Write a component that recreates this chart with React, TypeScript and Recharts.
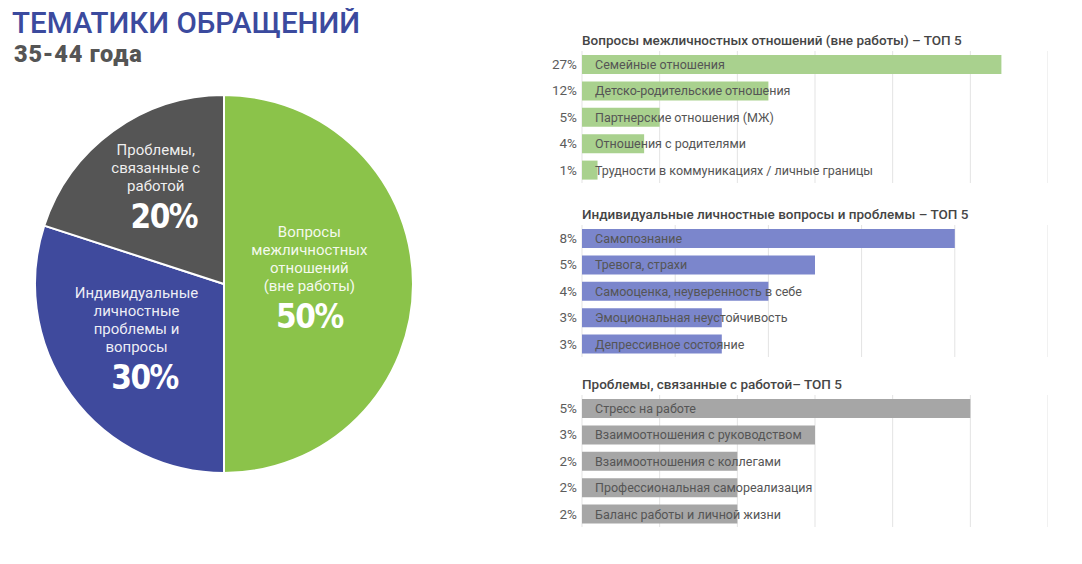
import React from "react";
import {
  Bar,
  BarChart,
  CartesianGrid,
  Cell,
  LabelList,
  Pie,
  PieChart,
  XAxis,
  YAxis,
} from "recharts";

// Pie: share of all requests by theme (35-44 years)
const pieNames = [
  "Вопросы межличностных отношений (вне работы)",
  "Индивидуальные личностные проблемы и вопросы",
  "Проблемы, связанные с работой",
];
const pieLines = [
  ["Вопросы", "межличностных", "отношений", "(вне работы)"],
  ["Индивидуальные", "личностные", "проблемы и", "вопросы"],
  ["Проблемы,", "связанные с", "работой"],
];
const pieValues = [50, 30, 20];

// Top-5 lists
const relNames = [
  "Семейные отношения",
  "Детско-родительские отношения",
  "Партнерские отношения (МЖ)",
  "Отношения с родителями",
  "Трудности в коммуникациях / личные границы",
];
const relValues = [27, 12, 5, 4, 1];

const selfNames = [
  "Самопознание",
  "Тревога, страхи",
  "Самооценка, неуверенность в себе",
  "Эмоциональная неустойчивость",
  "Депрессивное состояние",
];
const selfValues = [8, 5, 4, 3, 3];

const workNames = [
  "Стресс на работе",
  "Взаимоотношения с руководством",
  "Взаимоотношения с коллегами",
  "Профессиональная самореализация",
  "Баланс работы и личной жизни",
];
const workValues = [5, 3, 2, 2, 2];

const PIE_COLORS = ["#8bc34a", "#3f4a9d", "#555555"];
// label placement per slice: distance from centre and angle nudge (deg)
const PIE_LABEL_POS = [
  { r: 86, da: 7 },
  { r: 101, da: -6 },
  { r: 122, da: -2 },
];

const FONT = "Roboto, 'Noto Sans', sans-serif";
const RAD = Math.PI / 180;

const pieData = pieNames.map((name, i) => ({
  name,
  value: pieValues[i],
  lines: pieLines[i],
}));

function PieLabel(props: any) {
  const { cx, cy, midAngle, index, payload } = props;
  const pos = PIE_LABEL_POS[index];
  const a = (midAngle + pos.da) * RAD;
  const x = cx + pos.r * Math.cos(a);
  const y = cy - pos.r * Math.sin(a);
  const lines: string[] = payload.lines ?? pieData[index].lines;
  const lineH = 18;
  const blockH = (lines.length - 1) * lineH + 30;
  const top = y - blockH / 2;
  return (
    <g>
      {lines.map((t, i) => (
        <text
          key={i}
          x={x}
          y={top + i * lineH}
          textAnchor="middle"
          dominantBaseline="central"
          fill="#ffffff"
          fillOpacity={0.92}
          fontFamily={FONT}
          fontSize={15}
        >
          {t}
        </text>
      ))}
      <text
        x={x + (index === 0 ? 0 : 8)}
        y={top + (lines.length - 1) * lineH + 31}
        textAnchor="middle"
        dominantBaseline="central"
        fill="#ffffff"
        fontFamily="'DejaVu Sans Condensed', 'DejaVu Sans', sans-serif"
        fontWeight={700}
        fontSize={33}
        letterSpacing={-1.5}
      >
        {`${payload.value ?? pieData[index].value}%`}
      </text>
    </g>
  );
}

// x axis is only there to feed the grid; draw no tick text
const EmptyTick = () => <g />;

type TopProps = {
  title: string;
  names: string[];
  values: number[];
  max: number;
  step: number;
  color: string;
  top: number;
};

function TopChart({ title, names, values, max, step, color, top }: TopProps) {
  const data = names.map((name, i) => ({ name, value: values[i] }));
  const ticks: number[] = [];
  for (let v = 0; v <= max; v += step) ticks.push(v);
  return (
    <>
      <div
        style={{
          position: "absolute",
          left: 582,
          top: top - 19,
          fontFamily: FONT,
          fontSize: 13.5,
          fontWeight: 500,
          color: "#454545",
          whiteSpace: "nowrap",
        }}
      >
        {title}
      </div>
      <div style={{ position: "absolute", left: 540, top }}>
        <BarChart
          width={508}
          height={132}
          layout="vertical"
          data={data}
          margin={{ top: 0, right: 0, bottom: 0, left: 0 }}
          barSize={19}
        >
          <CartesianGrid horizontal={false} stroke="#e3e3e3" />
          <XAxis
            type="number"
            domain={[0, max]}
            ticks={ticks}
            interval={0}
            tick={EmptyTick}
            tickLine={false}
            axisLine={false}
            height={0}
          />
          <YAxis
            type="category"
            dataKey="name"
            width={42}
            tickLine={false}
            axisLine={false}
            tickSize={0}
            tickMargin={5}
            tickFormatter={(_v: string, i: number) => `${values[i]}%`}
            tick={{ fill: "#5c5c5c", fontSize: 13.5, fontFamily: FONT }}
          />
          <Bar dataKey="value" fill={color} isAnimationActive={false}>
            <LabelList
              dataKey="name"
              content={(p: any) => (
                <text
                  x={p.x + 13}
                  y={p.y + p.height / 2}
                  dominantBaseline="central"
                  fill="#555555"
                  fontFamily={FONT}
                  fontSize={12.5}
                >
                  {p.value}
                </text>
              )}
            />
          </Bar>
        </BarChart>
      </div>
    </>
  );
}

export default function App() {
  return (
    <div
      style={{
        position: "relative",
        width: 1082,
        height: 564,
        margin: -8,
        background: "#ffffff",
        overflow: "hidden",
      }}
    >
      <div
        style={{
          position: "absolute",
          left: 12,
          top: 5,
          fontFamily: FONT,
          fontSize: 29.5,
          fontWeight: 500,
          lineHeight: "36px",
          color: "#3b4a9e",
          whiteSpace: "nowrap",
        }}
      >
        ТЕМАТИКИ ОБРАЩЕНИЙ
      </div>
      <div
        style={{
          position: "absolute",
          left: 14,
          top: 40,
          fontFamily: FONT,
          fontSize: 23.5,
          fontWeight: 900,
          letterSpacing: 0.8,
          color: "#555555",
          whiteSpace: "nowrap",
        }}
      >
        35-44 года
      </div>

      <div style={{ position: "absolute", left: 0, top: 60 }}>
        <PieChart width={450} height={450}>
          <Pie
            data={pieData}
            dataKey="value"
            nameKey="name"
            cx={219}
            cy={219}
            outerRadius={189}
            startAngle={90}
            endAngle={-270}
            stroke="#ffffff"
            strokeWidth={2}
            labelLine={false}
            label={PieLabel}
            isAnimationActive={false}
          >
            {pieData.map((d, i) => (
              <Cell key={d.name} fill={PIE_COLORS[i]} />
            ))}
          </Pie>
        </PieChart>
      </div>

      <TopChart
        title="Вопросы межличностных отношений (вне работы) – ТОП 5"
        names={relNames}
        values={relValues}
        max={30}
        step={5}
        color="#a9d18e"
        top={51}
      />
      <TopChart
        title="Индивидуальные личностные вопросы и проблемы – ТОП 5"
        names={selfNames}
        values={selfValues}
        max={10}
        step={2}
        color="#7b86cc"
        top={225}
      />
      <TopChart
        title="Проблемы, связанные с работой– ТОП 5"
        names={workNames}
        values={workValues}
        max={6}
        step={1}
        color="#a6a6a6"
        top={395}
      />
    </div>
  );
}
